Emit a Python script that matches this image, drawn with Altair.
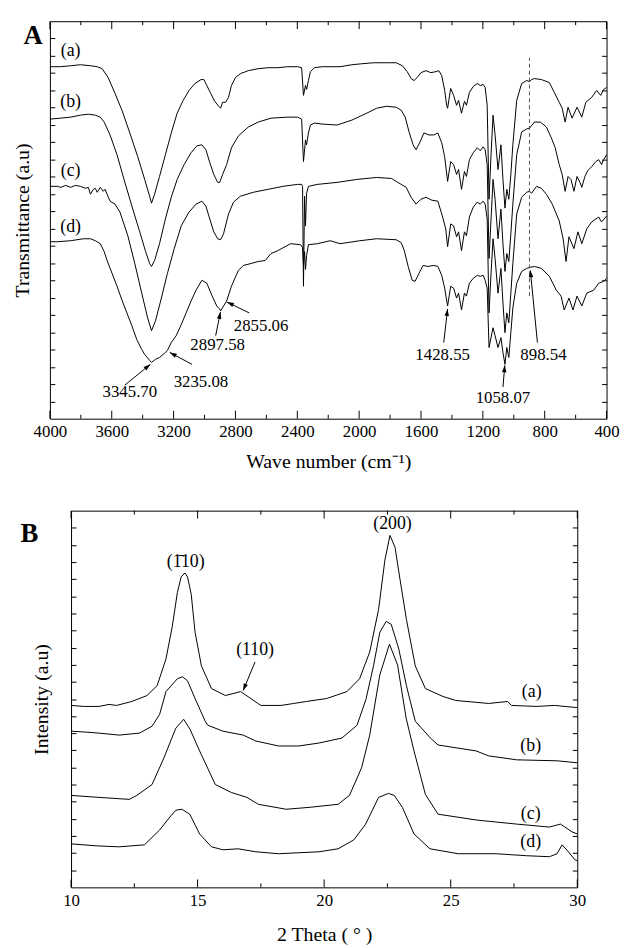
import altair as alt
import pandas as pd

FONT = "Liberation Serif"

# ---------------- Panel A : FTIR spectra (wave number cm-1, transmittance a.u.) ----------------
A_a = [(4000,356),(3930,356),(3866,357),(3802,358),(3738,357),(3694,356),(3662,354),(3623,345),(3579,329),
       (3534,312),(3483,289),(3432,265),(3387,242),(3355,225),(3343,218),(3323,227),(3291,245),(3253,267),
       (3215,289),(3177,309),(3138,322),(3100,332),(3062,339),(3023,343),(3004,343),(2985,337),(2960,329),
       (2934,321),(2908,316),(2896,314),(2883,320),(2864,320),(2845,325),(2826,337),(2800,345),(2768,349),
       (2717,352),(2653,354),(2589,355),(2526,355),(2462,356),(2398,356),(2372,355),(2360,327),(2347,337),
       (2340,333),(2328,342),(2315,351),(2289,355),(2238,356),(2123,356),(2047,358),(1983,359),(1906,360),
       (1823,360),(1760,360),(1721,357),(1689,351),(1664,344),(1645,342),(1625,345),(1600,350),(1568,352),
       (1536,350),(1504,351),(1485,352),(1466,347),(1447,332),(1434,317),(1428,314),(1408,334),(1389,327),
       (1370,317),(1357,322),(1338,309),(1319,321),(1306,317),(1287,330),(1262,336),(1236,339),(1217,337),
       (1198,338),(1185,335),(1172,317),(1160,222),(1147,267),(1134,307),(1121,287),(1102,252),(1083,277),
       (1070,242),(1057,213),(1045,232),(1032,222),(1019,247),(1006,277),(981,322),(949,339),(917,342),
       (898,341),(885,343),(866,344),(821,343),(770,340),(738,330),(706,320),(687,314),(668,300),(649,315),
       (623,304),(591,315),(560,305),(534,320),(496,325),(464,332),(438,327),(419,333),(400,335)]
A_b = [(4000,303),(3930,304),(3866,305),(3802,307),(3751,308),(3706,307),(3674,305),(3649,300),(3611,287),
       (3566,267),(3515,239),(3464,212),(3419,189),(3381,169),(3355,157),(3343,154),(3323,160),(3291,177),
       (3253,202),(3215,224),(3177,242),(3132,257),(3087,269),(3049,276),(3017,277),(2991,272),(2966,259),
       (2940,247),(2915,239),(2902,239),(2883,247),(2857,257),(2826,274),(2781,286),(2717,295),(2653,300),
       (2570,304),(2462,305),(2398,305),(2372,303),(2360,260),(2347,282),(2340,277),(2328,289),(2315,297),
       (2289,299),(2238,298),(2143,297),(2047,302),(1951,309),(1887,314),(1823,316),(1760,315),(1728,312),
       (1702,305),(1677,290),(1651,277),(1632,272),(1606,280),(1581,289),(1549,287),(1517,287),(1491,289),
       (1466,279),(1447,265),(1428,240),(1408,260),(1389,257),(1370,247),(1357,252),(1338,232),(1319,250),
       (1306,245),(1287,262),(1262,269),(1236,274),(1217,271),(1198,275),(1185,272),(1172,257),(1160,162),
       (1147,202),(1134,242),(1121,222),(1102,182),(1083,212),(1070,177),(1057,149),(1045,167),(1032,159),
       (1019,187),(1006,217),(981,267),(949,290),(917,293),(898,294),(866,300),(828,300),(789,295),(757,284),
       (732,274),(706,257),(687,247),(668,230),(649,245),(630,242),(611,230),(591,245),(572,239),(560,234),
       (540,245),(521,251),(496,255),(470,260),(451,262),(432,257),(419,262),(400,267)]
A_c = [(4000,235),(3949,235),(3930,234),(3898,236),(3866,234),(3834,236),(3802,235),(3770,233),(3751,234),
       (3738,227),(3719,232),(3706,233),(3694,229),(3674,234),(3655,230),(3643,232),(3630,227),(3611,220),
       (3579,217),(3547,209),(3496,185),(3451,157),(3406,127),(3368,102),(3343,89),(3317,99),(3279,122),
       (3240,147),(3196,172),(3151,195),(3100,209),(3055,217),(3017,220),(2991,215),(2966,202),(2940,189),
       (2915,182),(2896,181),(2877,187),(2845,207),(2813,219),(2768,225),(2685,229),(2589,232),(2494,235),
       (2398,237),(2372,237),(2366,235),(2360,134),(2353,225),(2347,195),(2340,228),(2328,235),(2270,237),
       (2143,239),(2015,242),(1887,244),(1791,243),(1760,240),(1728,237),(1696,234),(1664,224),(1632,217),
       (1600,222),(1568,224),(1530,221),(1491,220),(1460,204),(1440,192),(1428,174),(1408,197),(1389,195),
       (1370,184),(1357,189),(1338,170),(1319,189),(1306,185),(1287,204),(1262,214),(1236,219),(1217,217),
       (1198,220),(1185,217),(1172,202),(1160,107),(1147,147),(1134,182),(1121,162),(1102,127),(1083,152),
       (1070,117),(1057,87),(1045,107),(1032,97),(1019,127),(1006,157),(981,207),(949,224),(917,229),
       (898,230),(885,228),(853,235),(821,233),(789,227),(751,217),(706,200),(681,182),(662,159),(643,184),
       (611,172),(585,189),(560,177),(528,192),(496,199),(451,204),(432,199),(400,205)]
A_d = [(4000,179),(3949,179),(3866,180),(3783,182),(3738,182),(3706,180),(3674,177),(3649,169),(3630,160),
       (3598,147),(3566,134),(3534,120),(3502,107),(3470,94),(3438,80),(3406,70),(3387,65),(3355,59),
       (3343,57),(3317,60),(3291,62),(3260,66),(3240,69),(3215,77),(3183,84),(3151,95),(3119,107),(3087,119),
       (3055,130),(3017,140),(2985,137),(2953,125),(2921,114),(2902,111),(2896,109),(2877,114),(2857,119),
       (2826,134),(2781,150),(2749,155),(2698,157),(2653,159),(2608,160),(2570,167),(2526,170),(2443,177),
       (2379,176),(2366,173),(2360,155),(2353,169),(2347,151),(2340,165),(2328,176),(2270,177),(2187,180),
       (2123,177),(1996,180),(1887,182),(1760,181),(1728,178),(1708,170),(1683,154),(1657,140),(1638,139),
       (1613,147),(1587,155),(1555,154),(1517,155),(1491,154),(1466,145),(1447,132),(1428,114),(1408,134),
       (1389,132),(1370,122),(1357,127),(1338,110),(1319,127),(1306,124),(1287,137),(1262,142),(1236,145),
       (1217,144),(1198,145),(1185,140),(1172,132),(1160,72),(1147,82),(1134,92),(1121,84),(1102,72),
       (1083,82),(1070,67),(1057,55),(1045,72),(1032,62),(1019,87),(1006,112),(981,137),(949,149),(917,152),
       (898,153),(866,154),(821,152),(770,144),(725,130),(694,124),(674,110),(643,122),(617,110),(591,124),
       (560,114),(528,127),(483,130),(451,137),(419,139),(400,142)]

A_labels = ["(a)", "(b)", "(c)", "(d)"]
A_label_wn = [3866, 3866, 3866, 3866]
A_label_t = [372, 320, 250, 194]

A_peak_text = ["3345.70", "3235.08", "2897.58", "2855.06", "1428.55", "1058.07", "898.54"]
A_peak_text_wn = [3483, 3023, 2915, 2634, 1460, 1070, 808]
A_peak_text_t = [27, 37, 74, 94, 64, 21, 64]
A_arrow_tail_wn = [3515, 3081, 2928, 2711, 1453, 1070, 847]
A_arrow_tail_t = [34, 55, 84, 107, 77, 32, 77]
A_arrow_tip_wn = [3350, 3225, 2897, 2855, 1428, 1058, 893]
A_arrow_tip_t = [55, 67, 108, 118, 111, 54, 150]
A_arrow_angle = [51, 298, 11, 296, 7, 5, 354]

A_dash_wn = [898.54]
A_dash_t1 = [124]
A_dash_t2 = [365]

A_x_major = [4000, 3600, 3200, 2800, 2400, 2000, 1600, 1200, 800, 400]
A_x_minor = [3800, 3400, 3000, 2600, 2200, 1800, 1400, 1000, 600]
A_T_MAX = 402
A_y_ticks = [A_T_MAX / 23 * k for k in range(1, 23)]

# ---------------- Panel B : XRD patterns (2 theta, intensity a.u.) ----------------
B_a = [(10.0,184),(10.5,183),(11.1,183),(11.5,185),(11.8,184),(12.4,188),(13.0,194),(13.4,204),(13.75,231),
       (14.0,264),(14.2,298),(14.35,314),(14.5,318),(14.6,314),(14.68,305),(14.75,296),(14.9,258),
       (15.15,224),(15.55,201),(16.1,194),(16.7,198),(17.1,191),(17.5,184),(18.3,184),(18.8,186),(19.3,188),
       (20.1,191),(20.9,198),(21.4,211),(21.8,238),(22.15,281),(22.4,331),(22.6,356),(22.8,344),(23.0,311),
       (23.25,271),(23.6,224),(24.0,201),(24.7,193),(25.2,189),(26.5,186),(27.25,188),(27.4,184),(28.4,183),
       (29.1,184),(29.9,182),(30.0,182)]
B_b = [(10.0,158),(10.6,157),(11.1,156),(11.9,154),(12.7,156),(13.2,163),(13.5,175),(13.75,198),(14.2,211),
       (14.4,213),(14.6,209),(14.9,191),(15.3,168),(15.4,164),(16.0,158),(16.8,154),(17.3,148),(18.2,143),
       (19.0,143),(19.8,146),(20.7,151),(21.3,164),(21.65,190),(21.95,224),(22.2,258),(22.45,269),
       (22.65,266),(22.95,241),(23.25,204),(23.6,168),(24.2,151),(24.5,144),(26.0,138),(26.5,133),
       (27.6,129),(29.2,128),(30.0,126)]
B_c = [(10.0,93),(11.1,91),(12.3,89),(12.6,93),(13.2,104),(13.67,131),(14.14,161),(14.45,170),(14.7,160),
       (15.08,138),(15.7,104),(16.33,96),(16.95,91),(17.4,84),(18.5,79),(19.45,81),(20.55,84),(21.0,93),
       (21.48,121),(21.8,154),(22.2,215),(22.58,246),(22.9,225),(23.24,171),(23.55,138),(24.0,94),
       (24.5,74),(26.05,68),(27.6,64),(28.9,61),(29.34,64),(29.8,56),(30.0,54)]
B_d = [(10.0,44),(11.0,42),(11.9,41),(12.9,43),(13.5,58),(13.9,71),(14.14,78),(14.38,79),(14.69,74),
       (15.08,54),(15.55,41),(16.0,38),(16.6,39),(17.3,36),(18.2,34),(19.8,36),(20.55,39),(21.17,48),
       (21.64,64),(22.15,91),(22.54,95),(22.77,93),(23.09,81),(23.55,54),(24.18,39),(25.3,34),(26.8,34),
       (28.0,32),(28.9,31),(29.2,34),(29.4,43),(29.65,36),(29.9,28),(30.0,27)]

B_text = ["(1\u030410)", "(110)", "(200)", "(a)", "(b)", "(c)", "(d)"]
B_text_x = [14.53, 17.27, 22.7, 28.2, 28.16, 28.16, 28.16]
B_text_i = [329, 240, 367, 198, 143, 74, 46]
B_arrow_tail_x = [17.27]
B_arrow_tail_i = [228]
B_arrow_tip_x = [16.8]
B_arrow_tip_i = [199]
B_arrow_angle = [202]

B_x_major = [10, 15, 20, 25, 30]
B_x_minor = [12.5, 17.5, 22.5, 27.5]
B_I_MAX = 381
B_y_ticks = [B_I_MAX / 22 * k for k in range(1, 22)]

W_A, H_A = 563, 402
W_B, H_B = 512, 381
MAJOR_LEN, MINOR_LEN = 8, 4   # tick lengths (1 y-unit = 1 px in both panels)

ARROW = "M0,0L-0.32,1L0.32,1Z"


def curves_df(named):
    rows = []
    for name, pts in named.items():
        for x, y in pts:
            rows.append({"s": name, "x": x, "y": y})
    return pd.DataFrame(rows)


def tick_axis(orient, offset, values, size):
    return alt.Axis(orient=orient, offset=offset, values=values, labels=False, ticks=True,
                    tickSize=size, tickColor="black", tickWidth=1, domain=False, grid=False,
                    title=None)


def xticks_layer(x_major, x_minor, ymax, xs, ys):
    rows = []
    for vals, ln in ((x_major, MAJOR_LEN), (x_minor, MINOR_LEN)):
        for v in vals:
            rows.append({"x": v, "y": 0, "y2": ln})
            rows.append({"x": v, "y": ymax - ln, "y2": ymax})
    df = pd.DataFrame(rows)
    return alt.Chart(df).mark_rule(color="black", strokeWidth=1, opacity=1).encode(
        x=alt.X("x:Q", scale=xs), y=alt.Y("y:Q", scale=ys, axis=None), y2="y2:Q")


def panel(df, xs, ys, W, H, x_major, x_minor, y_ticks, ymax, xtitle, ytitle, x_tp, y_tp, frame):
    main = alt.Chart(df).mark_line(color="black", strokeWidth=1).encode(
        x=alt.X("x:Q", scale=xs, axis=alt.Axis(
            orient="bottom", values=x_major, format="d", labels=True, ticks=False,
            domain=False, grid=False, labelPadding=5, labelFlush=False, labelOverlap=False,
            title=xtitle, titlePadding=x_tp)),
        y=alt.Y("y:Q", scale=ys, axis=alt.Axis(
            orient="left", labels=False, ticks=False, domain=False, grid=False,
            title=ytitle, titlePadding=y_tp)),
        detail="s:N",
    )

    def tl(yaxis):
        return alt.Chart(frame).mark_point(opacity=0, size=1).encode(
            x=alt.X("x:Q", scale=xs), y=alt.Y("y:Q", scale=ys, axis=yaxis))

    return [
        main,
        tl(tick_axis("right", -W, y_ticks, 5)),
        tl(tick_axis("left", -W, y_ticks, 5)),
        xticks_layer(x_major, x_minor, ymax, xs, ys),
    ]


def text_layer(df, xs, ys, size, weight="normal"):
    return alt.Chart(df).mark_text(font=FONT, fontSize=size, fontWeight=weight, color="black",
                                   align="center", baseline="middle").encode(
        x=alt.X("x:Q", scale=xs), y=alt.Y("y:Q", scale=ys, axis=None), text="t:N")


def arrow_layers(df, xs, ys):
    rules = alt.Chart(df).mark_rule(color="black", strokeWidth=1).encode(
        x=alt.X("x:Q", scale=xs), y=alt.Y("y:Q", scale=ys, axis=None),
        x2="xe:Q", y2="ye:Q")
    heads = alt.Chart(df).mark_point(shape=ARROW, filled=True, color="black", size=200,
                                     opacity=1, strokeWidth=0).encode(
        x=alt.X("xe:Q", scale=xs), y=alt.Y("ye:Q", scale=ys, axis=None),
        angle=alt.Angle("ang:Q", scale=None))
    return [rules, heads]


# ---- Panel A ----
xA = alt.Scale(domain=[4000, 400], nice=False, zero=False)
yA = alt.Scale(domain=[0, A_T_MAX], nice=False, zero=False)
dfA = curves_df({"a": A_a, "b": A_b, "c": A_c, "d": A_d})
frameA = pd.DataFrame({"x": [4000, 400], "y": [0, A_T_MAX]})

layersA = panel(dfA, xA, yA, W_A, H_A, A_x_major, A_x_minor, A_y_ticks, A_T_MAX,
                "Wave number (cm\u207b\u00b9)", "Transmittance (a.u)", 12, 18, frameA)

dashA = alt.Chart(pd.DataFrame({"x": A_dash_wn, "y": A_dash_t1, "y2": A_dash_t2})).mark_rule(
    color="#555555", strokeDash=[4, 3], strokeWidth=1).encode(
    x=alt.X("x:Q", scale=xA), y=alt.Y("y:Q", scale=yA, axis=None), y2="y2:Q")

arrA = pd.DataFrame({"x": A_arrow_tail_wn, "y": A_arrow_tail_t, "xe": A_arrow_tip_wn,
                     "ye": A_arrow_tip_t, "ang": A_arrow_angle})
peaksA = pd.DataFrame({"x": A_peak_text_wn, "y": A_peak_text_t, "t": A_peak_text})
labA = pd.DataFrame({"x": A_label_wn, "y": A_label_t, "t": A_labels})
letterA = pd.DataFrame({"x": [4108], "y": [387], "t": ["A"]})

chartA = alt.layer(
    *layersA, dashA, *arrow_layers(arrA, xA, yA),
    text_layer(peaksA, xA, yA, 17), text_layer(labA, xA, yA, 18),
    text_layer(letterA, xA, yA, 27, "bold"),
).resolve_axis(y="independent").properties(width=W_A, height=H_A)

# ---- Panel B ----
xB = alt.Scale(domain=[10, 30], nice=False, zero=False)
yB = alt.Scale(domain=[0, B_I_MAX], nice=False, zero=False)
dfB = curves_df({"a": B_a, "b": B_b, "c": B_c, "d": B_d})
frameB = pd.DataFrame({"x": [10, 30.8], "y": [0, B_I_MAX]})

layersB = panel(dfB, xB, yB, W_B, H_B, B_x_major, B_x_minor, B_y_ticks, B_I_MAX,
                "2 Theta ( \u00b0 )", "Intensity (a.u)", 17, 20, frameB)

arrB = pd.DataFrame({"x": B_arrow_tail_x, "y": B_arrow_tail_i, "xe": B_arrow_tip_x,
                     "ye": B_arrow_tip_i, "ang": B_arrow_angle})
textB = pd.DataFrame({"x": B_text_x, "y": B_text_i, "t": B_text})
letterB = pd.DataFrame({"x": [8.36], "y": [357], "t": ["B"]})

chartB = alt.layer(
    *layersB, *arrow_layers(arrB, xB, yB), text_layer(textB, xB, yB, 18),
    text_layer(letterB, xB, yB, 27, "bold"),
).resolve_axis(y="independent").properties(width=W_B, height=H_B)

chart = alt.vconcat(chartA, chartB, spacing=38, center=True).properties(
    padding={"left": 3, "top": 7, "right": 2, "bottom": 2}
).configure_view(stroke="black", strokeWidth=1).configure_axis(
    labelFont=FONT, titleFont=FONT, labelFontSize=17, titleFontSize=20,
    titleFontWeight="normal", labelColor="black", titleColor="black"
)

chart.save("out.html", embed_options={"renderer": "svg", "actions": False})
